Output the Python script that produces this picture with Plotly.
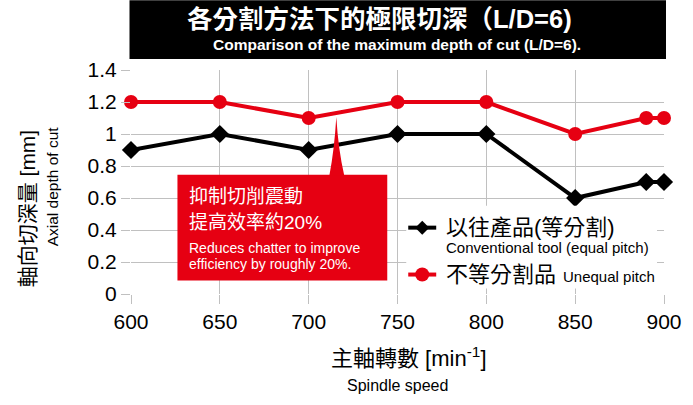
import plotly.graph_objects as go

# Data
speeds_conv = [600, 650, 700, 750, 800, 850, 890, 900]
depth_conv = [0.9, 1.0, 0.9, 1.0, 1.0, 0.6, 0.7, 0.7]
speeds_uneq = [600, 650, 700, 750, 800, 850, 890, 900]
depth_uneq = [1.2, 1.2, 1.1, 1.2, 1.2, 1.0, 1.1, 1.1]
x_ticks = [600, 650, 700, 750, 800, 850, 900]
y_ticks = [0, 0.2, 0.4, 0.6, 0.8, 1, 1.2, 1.4]
y_tick_text = ["0", "0.2", "0.4", "0.6", "0.8", "1", "1.2", "1.4"]

FONT = "Liberation Sans, Arial, Noto Sans CJK TC, sans-serif"
RED = "#e60012"
GRID = "#c0c0c0"

W, H = 693, 405
ML, MR, MT, MB = 130.5, 29, 70, 110.5
PW = W - ML - MR
PH = H - MT - MB

def px(x):
    return (x - ML) / PW

def py(y):
    return (H - MB - y) / PH

fig = go.Figure()
fig.add_trace(go.Scatter(
    x=speeds_conv, y=depth_conv, mode="lines+markers", name="以往產品(等分割)",
    line=dict(color="black", width=4),
    marker=dict(symbol="diamond", size=14, color="black"),
    cliponaxis=False, showlegend=False,
))
fig.add_trace(go.Scatter(
    x=speeds_uneq, y=depth_uneq, mode="lines+markers", name="不等分割品",
    line=dict(color=RED, width=4),
    marker=dict(symbol="circle", size=14, color=RED),
    cliponaxis=False, showlegend=False,
))

def diamond(cx, cy, r):
    return (f"M {px(cx - r)},{py(cy)} L {px(cx)},{py(cy - r)} L {px(cx + r)},{py(cy)} "
            f"L {px(cx)},{py(cy + r)} Z")

shapes = [
    # title bar
    dict(type="rect", xref="paper", yref="paper", x0=px(129), x1=px(666), y0=py(59), y1=py(0),
         fillcolor="black", line=dict(width=0), layer="above"),
    # callout box
    dict(type="rect", xref="paper", yref="paper", x0=px(177), x1=px(387), y0=py(281), y1=py(175),
         fillcolor=RED, line=dict(width=0), layer="above"),
    # callout pointer
    dict(type="path", xref="paper", yref="paper",
         path=f"M {px(329)},{py(176)} Q {px(334)},{py(150)} {px(336)},{py(117)} "
              f"Q {px(338)},{py(150)} {px(344)},{py(176)} Z",
         fillcolor=RED, line=dict(width=0), layer="above"),
    # legend background
    dict(type="rect", xref="paper", yref="paper", x0=px(406), x1=px(657), y0=py(289), y1=py(206),
         fillcolor="white", line=dict(width=0), layer="above"),
    # legend symbols
    dict(type="line", xref="paper", yref="paper", x0=px(408), x1=px(436), y0=py(228), y1=py(228),
         line=dict(color="black", width=4), layer="above"),
    dict(type="path", xref="paper", yref="paper", path=diamond(422, 228, 7),
         fillcolor="black", line=dict(width=0), layer="above"),
    dict(type="line", xref="paper", yref="paper", x0=px(408), x1=px(436), y0=py(275), y1=py(275),
         line=dict(color=RED, width=4), layer="above"),
    dict(type="circle", xref="paper", yref="paper", x0=px(415), x1=px(429), y0=py(282), y1=py(268),
         fillcolor=RED, line=dict(width=0), layer="above"),
]

def ann(text, x, y, size, color="black", xanchor="left", angle=0, bold=False):
    return dict(text=f"<b>{text}</b>" if bold else text, x=px(x), y=py(y), xref="paper", yref="paper",
                showarrow=False, textangle=angle, xanchor=xanchor, yanchor="middle",
                font=dict(size=size, color=color, family=FONT))

annotations = [
    ann("各分割方法下的極限切深（L/D=6)", 379, 19, 25.5, "white", "center", bold=True),
    ann("Comparison of the maximum depth of cut (L/D=6).", 397, 44, 15.5, "white", "center", bold=True),
    ann("抑制切削震動", 187, 197, 19, "white"),
    ann("提高效率約20%", 187, 223, 19, "white"),
    ann("Reduces chatter to improve", 187, 248, 14, "white"),
    ann("efficiency by roughly 20%.", 187, 264, 14, "white"),
    ann("軸向切深量 [mm]", 27, 209, 21, xanchor="center", angle=-90),
    ann("Axial depth of cut", 52, 187, 15.5, xanchor="center", angle=-90),
    ann("主軸轉數 [min<sup>-1</sup>]", 409, 358, 22, xanchor="center"),
    ann("Spindle speed", 397, 386, 16, xanchor="center"),
    # legend texts
    ann("以往產品(等分割)", 444, 228, 22),
    ann("Conventional tool (equal pitch)", 444, 248, 15),
    ann("不等分割品", 444, 275, 22),
    ann("Unequal pitch", 561, 277, 15),
]

fig.update_layout(
    width=W, height=H,
    margin=dict(l=ML, r=MR, t=MT, b=MB, pad=0),
    paper_bgcolor="white", plot_bgcolor="white",
    font=dict(family=FONT, color="black"),
    showlegend=False,
    shapes=shapes, annotations=annotations,
    xaxis=dict(range=[600, 900], tickvals=x_ticks, showgrid=True, gridcolor=GRID, gridwidth=1,
               zeroline=False, showline=False, ticks="outside", ticklen=9, tickcolor=GRID,
               tickfont=dict(size=21, family=FONT, color="black")),
    yaxis=dict(range=[0, 1.4], tickvals=y_ticks, ticktext=y_tick_text, showgrid=True, gridcolor=GRID,
               gridwidth=1, zeroline=False, showline=False, ticks="outside", ticklen=9, tickcolor=GRID,
               tickfont=dict(size=21, family=FONT, color="black")),
)

fig.write_html("out.html")
